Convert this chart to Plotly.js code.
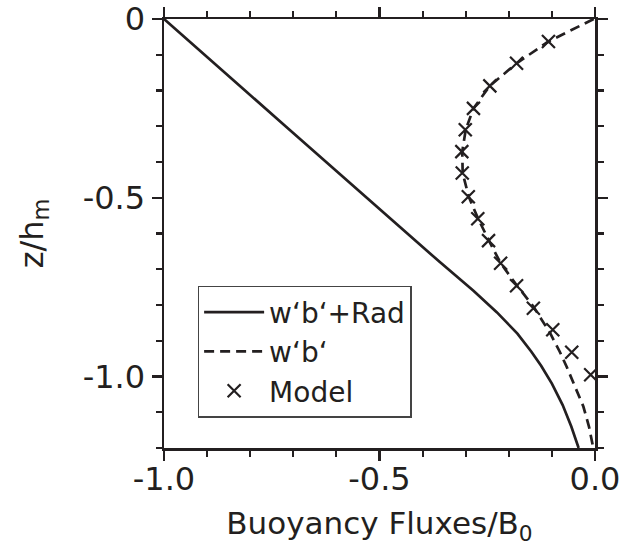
<!DOCTYPE html>
<html>
<head>
<meta charset="utf-8">
<script src="https://cdn.plot.ly/plotly-3.0.1.min.js"></script>
<style>html,body{margin:0;padding:0;background:#fff;}</style>
</head>
<body>
<div id="chart" style="width:632px;height:546px;"></div>
<script>
// Solid curve: w'b'+Rad
const zRad = [0, -0.1, -0.2, -0.3, -0.4, -0.5, -0.6, -0.68, -0.76, -0.82, -0.88, -0.93, -0.97, -1.02, -1.08, -1.14, -1.2];
const fluxRad = [-1.0, -0.905, -0.812, -0.718, -0.624, -0.530, -0.437, -0.360, -0.282, -0.228, -0.180, -0.148, -0.125, -0.100, -0.075, -0.055, -0.038];

// Dashed curve: w'b'
const zWb = [0, -0.063, -0.124, -0.187, -0.25, -0.31, -0.371, -0.431, -0.497, -0.559, -0.62, -0.683, -0.744, -0.804, -0.879, -0.93, -0.972, -1.03, -1.084, -1.14, -1.177, -1.2];
const fluxWb = [-0.003, -0.108, -0.182, -0.244, -0.282, -0.300, -0.308, -0.307, -0.293, -0.271, -0.246, -0.219, -0.182, -0.143, -0.104, -0.082, -0.066, -0.045, -0.027, -0.014, -0.008, -0.004];

// Model crosses
const zModel = [-0.063, -0.124, -0.187, -0.25, -0.31, -0.371, -0.431, -0.497, -0.559, -0.62, -0.683, -0.746, -0.809, -0.869, -0.932, -0.995];
const fluxModel = [-0.108, -0.182, -0.244, -0.282, -0.301, -0.309, -0.308, -0.294, -0.272, -0.247, -0.219, -0.182, -0.143, -0.098, -0.054, -0.010];

const seriesNames = ["w‘b‘+Rad", "w‘b‘", "Model"];
const xTickVals = [-1.0, -0.5, 0.0];
const xTickText = ["-1.0", "-0.5", "0.0"];
const yTickVals = [0, -0.5, -1.0];
const yTickText = ["0", "-0.5", "-1.0"];

const ink = '#231f20';
const FONT = 'DejaVu Sans, Liberation Sans, Arial, sans-serif';

const traces = [
  {x: fluxRad, y: zRad, name: seriesNames[0], mode: 'lines', type: 'scatter',
   line: {color: ink, width: 2.7}},
  {x: fluxWb, y: zWb, name: seriesNames[1], mode: 'lines', type: 'scatter',
   line: {color: ink, width: 2.7, dash: '10px,6px'}},
  {x: fluxModel, y: zModel, name: seriesNames[2], mode: 'markers', type: 'scatter',
   marker: {symbol: 'x-thin-open', size: 13, color: ink, line: {color: ink, width: 2.2}}, cliponaxis: false}
];

const axisCommon = {
  showgrid: false, zeroline: false, showline: true, linecolor: ink, linewidth: 2.5,
  mirror: 'ticks', ticks: 'outside', ticklen: 10, tickwidth: 2.5, tickcolor: ink,
  tickfont: {family: FONT, size: 32, color: ink},
  tickmode: 'array',
  minor: {tickmode: 'linear', tick0: 0, dtick: 0.1, ticks: 'outside', ticklen: 6, tickwidth: 2.2, tickcolor: ink, showgrid: false}
};

const layout = {
  width: 632, height: 546,
  margin: {l: 164, r: 37, t: 19, b: 98},
  paper_bgcolor: '#fff', plot_bgcolor: '#fff',
  font: {family: FONT, color: ink},
  showlegend: true,
  legend: {
    x: 0.078, y: 0.378, xanchor: 'left', yanchor: 'top',
    bgcolor: '#fff', bordercolor: '#444', borderwidth: 1.5,
    font: {family: FONT, size: 28, color: ink},
    itemwidth: 60
  },
  xaxis: Object.assign({}, axisCommon, {
    range: [-1.0, 0.0], tickvals: xTickVals, ticktext: xTickText,
    ticklabelstandoff: -9,
    title: {text: 'Buoyancy Fluxes/B<sub>0</sub>', font: {family: FONT, size: 31, color: ink}, standoff: 16}
  }),
  yaxis: Object.assign({}, axisCommon, {
    range: [-1.2, 0.0], tickvals: yTickVals, ticktext: yTickText,
    title: {text: 'z/h<sub>m</sub>', font: {family: FONT, size: 32, color: ink}, standoff: 30}
  })
};

Plotly.newPlot('chart', traces, layout, {staticPlot: true, displayModeBar: false});
</script>
</body>
</html>
